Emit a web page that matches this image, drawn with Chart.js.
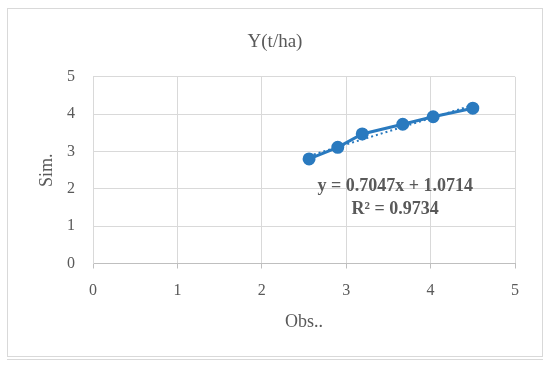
<!DOCTYPE html>
<html>
<head>
<meta charset="utf-8">
<script src="https://cdn.jsdelivr.net/npm/chart.js@4"></script>
<style>
  html, body { margin: 0; padding: 0; background: #fff; }
  #wrap { width: 550px; height: 369px; }
</style>
</head>
<body>
<div id="wrap"><canvas id="chart" width="550" height="369"></canvas></div>
<script>
// values
const obs = [2.56, 2.90, 3.19, 3.67, 4.03, 4.50];
const sim = [2.80, 3.11, 3.47, 3.73, 3.93, 4.16];
const trendObs = [2.56, 4.50];
const trendSim = [2.88, 4.24];
const axisTicks = [0, 1, 2, 3, 4, 5];
const eqLines = ['y = 0.7047x + 1.0714', 'R\u00b2 = 0.9734'];

const FONT = "'Liberation Serif', 'DejaVu Serif', serif";
const TEXT = '#595959';
const GRID = '#d9d9d9';
const BLUE = '#2a7abf';

const frame = {
  id: 'frame',
  beforeDraw(chart) {
    const ctx = chart.ctx;
    ctx.save();
    ctx.strokeStyle = GRID;
    ctx.lineWidth = 1;
    ctx.strokeRect(7.5, 8.5, 535, 348);
    ctx.beginPath();
    ctx.moveTo(7, 359.5);
    ctx.lineTo(543, 359.5);
    ctx.stroke();
    ctx.restore();
  }
};

const equation = {
  id: 'equation',
  afterDatasetsDraw(chart) {
    const ctx = chart.ctx;
    const x = chart.scales.x.getPixelForValue(3.58);
    ctx.save();
    ctx.fillStyle = TEXT;
    ctx.font = "bold 18px " + FONT;
    ctx.textAlign = 'center';
    ctx.textBaseline = 'middle';
    ctx.fillText(eqLines[0], x, chart.scales.y.getPixelForValue(2.07));
    ctx.fillText(eqLines[1], x, chart.scales.y.getPixelForValue(1.46));
    ctx.restore();
  }
};

const pts = obs.map((v, i) => ({ x: v, y: sim[i] }));
const trend = trendObs.map((v, i) => ({ x: v, y: trendSim[i] }));

new Chart(document.getElementById('chart'), {
  type: 'scatter',
  data: {
    datasets: [
      {
        label: 'Y(t/ha)',
        data: pts,
        showLine: true,
        borderColor: BLUE,
        backgroundColor: BLUE,
        borderWidth: 3,
        pointRadius: 5,
        pointHoverRadius: 5
      },
      {
        label: 'Linear',
        data: trend,
        showLine: true,
        borderColor: BLUE,
        borderWidth: 2,
        borderDash: [2, 3],
        pointRadius: 0
      }
    ]
  },
  options: {
    responsive: false,
    animation: false,
    layout: { padding: { left: 35, right: 35, top: 8, bottom: 13 } },
    plugins: {
      legend: { display: false },
      tooltip: { enabled: false },
      title: {
        display: true,
        text: 'Y(t/ha)',
        color: TEXT,
        font: { family: FONT, size: 19, weight: 'normal' },
        padding: { top: 23, bottom: 23 }
      }
    },
    scales: {
      x: {
        type: 'linear',
        min: 0,
        max: 5,
        afterBuildTicks: s => { s.ticks = axisTicks.map(v => ({ value: v })); },
        afterFit: s => { s.height = 92.5; },
        ticks: { color: TEXT, font: { family: FONT, size: 16 }, padding: 13 },
        grid: { color: GRID, tickLength: 5, tickColor: '#bfbfbf' },
        border: { color: '#bfbfbf' },
        title: {
          display: true,
          text: 'Obs..',
          color: TEXT,
          font: { family: FONT, size: 18, weight: 'normal' },
          padding: { top: 0, bottom: 23 }
        }
      },
      y: {
        type: 'linear',
        min: 0,
        max: 5,
        afterBuildTicks: s => { s.ticks = axisTicks.map(v => ({ value: v })); },
        afterFit: s => { s.width = 58; },
        ticks: { color: TEXT, font: { family: FONT, size: 16 }, padding: 18 },
        grid: { color: GRID, drawTicks: false },
        border: { color: GRID },
        title: {
          display: true,
          text: 'Sim.',
          color: TEXT,
          font: { family: FONT, size: 18, weight: 'normal' },
          padding: { top: 1, bottom: 0 }
        }
      }
    }
  },
  plugins: [frame, equation]
});
</script>
</body>
</html>
